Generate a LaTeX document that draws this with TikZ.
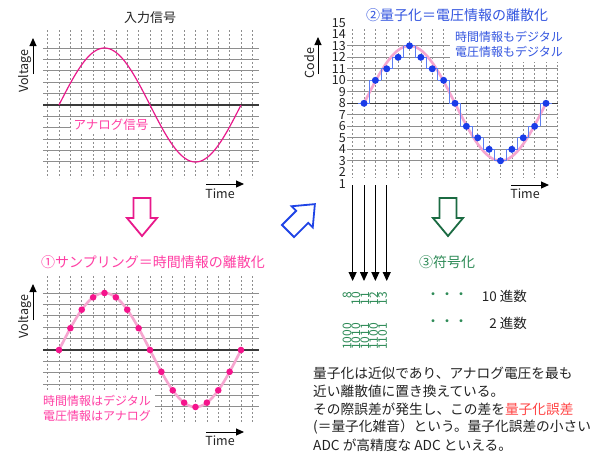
\documentclass[tikz,border=0pt]{standalone}
\usepackage{fontspec}
\setmainfont{Noto Sans CJK JP}
\usetikzlibrary{arrows.meta}
\definecolor{gridgray}{HTML}{8E8E8E}
\definecolor{axisdark}{HTML}{3A3A3A}
\definecolor{pinkline}{HTML}{E8198B}
\definecolor{pinktext}{HTML}{FF3FA4}
\definecolor{pinkdot}{HTML}{F5148C}
\definecolor{lightpink}{HTML}{F6A6D0}
\definecolor{bluetext}{HTML}{3355E0}
\definecolor{bluearrow}{HTML}{1F44E6}
\definecolor{bluestep}{HTML}{5C7DF2}
\definecolor{bluedot}{HTML}{1A3CE8}
\definecolor{greenarrow}{HTML}{1B6B42}
\definecolor{greentext}{HTML}{2E8B57}
\definecolor{rederr}{HTML}{FF4545}
\definecolor{textdark}{HTML}{222222}
\tikzset{hollowarrow/.pic={\path[pic actions] (-8.5,0) -- (8.5,0) -- (8.5,20) -- (15,20) -- (0,38) -- (-15,20) -- (-8.5,20) -- cycle;}}
\begin{document}
\begin{tikzpicture}[x=1pt,y=-1pt,
  vgrid/.style={gridgray, line width=0.7pt, dash pattern=on 2pt off 2pt},
  hgrid/.style={gridgray, line width=0.9pt},
  axisline/.style={axisdark, line width=1.2pt},
  axarrow/.style={-{Triangle[length=8pt,width=7pt]}, line width=1pt, black},
  blackarrow/.style={-{Triangle[length=9pt,width=8pt]}, line width=1pt, black},
  lbl/.style={font=\fontsize{12.5}{14}\selectfont, inner sep=0pt, text=textdark},
  ttl/.style={font=\fontsize{14}{16}\selectfont, inner sep=0pt},
  num/.style={font=\fontsize{12}{13}\selectfont, inner sep=0pt, text=greentext},
  body/.style={font=\fontsize{13.7}{16}\selectfont, inner sep=0pt, anchor=west, text=textdark},
  softcurve/.style={lightpink, line width=2.6pt},
  stepline/.style={bluestep, line width=1pt}
]
\useasboundingbox (0,0) rectangle (600,459);
\fill[white] (0,0) rectangle (600,459);

% ---------- Panel 1: input signal ----------
\node[ttl, font=\fontsize{13}{15}\selectfont, text=textdark] (title1) at (150,18) {入力信号};
\foreach \i in {0,...,18} \draw[vgrid] ({47.625+11.375*\i},30) -- ({47.625+11.375*\i},178);
\foreach \k in {-5,...,5} \draw[hgrid] (43,{105+11.375*\k}) -- (259,{105+11.375*\k});
\draw[axisline] (43,105) -- (259,105);
\node[lbl, text=pinktext, fill=white, inner sep=2.5pt] (analog) at (111,125) {アナログ信号};
\draw[pinkline, line width=1.2pt] plot[domain=0:16, samples=120, variable=\t] ({59+11.375*\t},{105-57*sin(22.5*\t)});
\node[lbl, rotate=90] (volt1) at (25,71) {Voltage};
\coordinate (v1a) at (33,74); \coordinate (v1b) at (33,38);
\draw[axarrow] (v1a) -- (v1b);
\coordinate (t1a) at (206,184); \coordinate (t1b) at (244,184);
\draw[axarrow] (t1a) -- (t1b);
\node[lbl] (time1) at (220,194) {Time};
\pic[draw=pinkline, fill=white, line width=1.8pt] (arrow1) at (142,198) {hollowarrow};

% ---------- Panel 3: sampling ----------
\node[ttl, text=pinktext] (title3) at (153,262) {①サンプリング＝時間情報の離散化};
\foreach \i in {0,...,18} \draw[vgrid] ({47.625+11.375*\i},276) -- ({47.625+11.375*\i},423);
\foreach \k in {-5,...,5} \draw[hgrid] (43,{350+11.375*\k}) -- (259,{350+11.375*\k});
\draw[axisline] (43,350) -- (259,350);
\fill[white] (40,390) rectangle (155,426);
\node[lbl, font=\fontsize{12}{14}\selectfont, text=pinktext, anchor=west] (s1) at (43,401) {時間情報はデジタル};
\node[lbl, font=\fontsize{12}{14}\selectfont, text=pinktext, anchor=west] (s2) at (43,416) {電圧情報はアナログ};
\draw[softcurve] plot[domain=0:16, samples=120, variable=\t] ({59+11.375*\t},{350-57*sin(22.5*\t)});
\foreach \k in {0,...,16} \fill[pinkdot] ({59+11.375*\k},{350-57*sin(22.5*\k)}) circle (3.3);
\node[lbl, rotate=90] (volt3) at (25,316.5) {Voltage};
\coordinate (v3a) at (33,320); \coordinate (v3b) at (33,284);
\draw[axarrow] (v3a) -- (v3b);
\coordinate (t3a) at (206,432); \coordinate (t3b) at (244,432);
\draw[axarrow] (t3a) -- (t3b);
\node[lbl] (time3) at (220,441) {Time};

% ---------- Panel 2: quantization ----------
\node[ttl, text=bluetext] (title2) at (457,15) {②量子化＝電圧情報の離散化};
\foreach \i in {0,...,18} \draw[vgrid] ({352.625+11.375*\i},29) -- ({352.625+11.375*\i},178);
\foreach \c in {3,...,13} \draw[hgrid] (347,{195.3-11.5*\c}) -- (558,{195.3-11.5*\c});
\draw[axisline] (347,103.3) -- (558,103.3);
\fill[white] (450,26) rectangle (580,62);
\node[lbl, font=\fontsize{12}{14}\selectfont, text=bluetext] (q1) at (509,37) {時間情報もデジタル};
\node[lbl, font=\fontsize{12}{14}\selectfont, text=bluetext] (q2) at (509,52) {電圧情報もデジタル};
\foreach \c in {1,...,15} \node[lbl, anchor=east] (code\c) at (346,{195.3-11.5*\c}) {\c};
\draw[softcurve] plot[domain=0:16, samples=120, variable=\t] ({364+11.375*\t},{103.3-57.5*sin(22.5*\t)});
\foreach \v [count=\k from 0] in {8,10,11,12,13,12,11,10,8,6,5,4,3,4,5,6,8} {
  \draw[stepline] ({364+11.375*\k-5.6875},{195.3-11.5*\v}) -- ({364+11.375*\k+5.6875},{195.3-11.5*\v});
}
\foreach \a/\b [count=\k from 0] in {8/10,10/11,11/12,12/13,13/12,12/11,11/10,10/8,8/6,6/5,5/4,4/3,3/4,4/5,5/6,6/8} {
  \draw[stepline] ({369.6875+11.375*\k},{195.3-11.5*\a}) -- ({369.6875+11.375*\k},{195.3-11.5*\b});
}
\foreach \v [count=\k from 0] in {8,10,11,12,13,12,11,10,8,6,5,4,3,4,5,6,8} {
  \fill[bluedot] ({364+11.375*\k},{195.3-11.5*\v}) circle (3.5);
}
\node[lbl, rotate=90] (code) at (310,63) {Code};
\coordinate (c2a) at (318,74); \coordinate (c2b) at (318,37);
\draw[axarrow] (c2a) -- (c2b);
\coordinate (t2a) at (511,185); \coordinate (t2b) at (549,185);
\draw[axarrow] (t2a) -- (t2b);
\node[lbl] (time2) at (525,194) {Time};

% ---------- transition arrows ----------
\pic[draw=bluearrow, fill=white, line width=1.8pt, rotate=135] (arrow2) at (288,231) {hollowarrow};
\pic[draw=greenarrow, fill=white, line width=1.8pt] (arrow3) at (448,198) {hollowarrow};

% ---------- sampling arrows down to code ----------
\foreach \i in {0,...,3} {
  \coordinate (aS\i) at ({352.625+11.375*\i},185);
  \coordinate (aE\i) at ({352.625+11.375*\i},281);
  \draw[blackarrow] (aS\i) -- (aE\i);
}

% ---------- Panel 4: coding ----------
\node[ttl, text=greentext] (title4) at (447,262) {③符号化};
\foreach \n/\xx in {8/347,10/355.9,11/364.8,12/373.7,13/382.6}
  \node[num, rotate=90, anchor=east] (d\n) at (\xx,292) {\n};
\foreach \n/\xx [count=\k] in {1000/347,1010/355.9,1011/364.8,1100/373.7,1101/382.6}
  \node[num, rotate=90, anchor=east] (b\k) at (\xx,323) {\n};
\node[font=\fontsize{14}{16}\selectfont, inner sep=0pt, text=greentext] (dots1) at (447,296) {・・・};
\node[font=\fontsize{14}{16}\selectfont, inner sep=0pt, text=greentext] (dots2) at (447,323) {・・・};
\node[font=\fontsize{13.5}{16}\selectfont, inner sep=0pt, anchor=east, text=textdark] (dec) at (527,296) {10 進数};
\node[font=\fontsize{13.5}{16}\selectfont, inner sep=0pt, anchor=east, text=textdark] (bin) at (527,323) {2 進数};

% ---------- explanation ----------
\node[body] (p1) at (313,373) {量子化は近似であり、アナログ電圧を最も};
\node[body] (p2) at (313,391) {近い離散値に置き換えている。};
\node[body] (p3) at (313,409) {その際誤差が発生し、この差を\textcolor{rederr}{量子化誤差}};
\node[body] (p4) at (313,427) {(＝量子化雑音）という。量子化誤差の小さい};
\node[body] (p5) at (313,445) {ADC が高精度な ADC といえる。};
\end{tikzpicture}
\end{document}
